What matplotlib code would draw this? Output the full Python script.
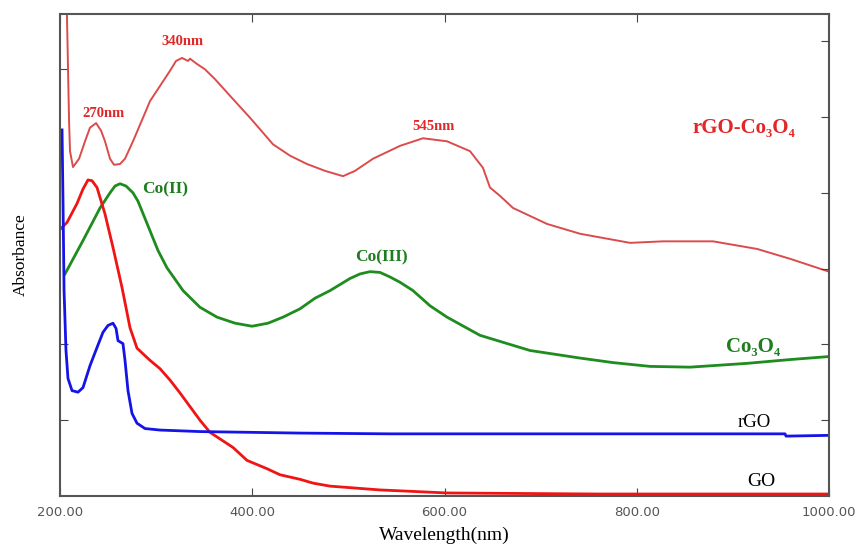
import matplotlib
matplotlib.use("Agg")
import matplotlib.pyplot as plt
from matplotlib.ticker import FormatStrFormatter

#------------------------------------------------------------
# UV-vis spectra (arbitrary absorbance)
rgo_co_nm = [206.5, 209.4, 210.4, 213.5, 219.8, 226.0, 231.2, 237.5, 242.7, 246.8,
             252.0, 256.2, 262.4, 267.6, 275.9, 286.3, 293.6, 304.0, 314.4, 320.7,
             326.9, 333.2, 335.2, 342.5, 350.8, 361.2, 376.9, 397.7, 421.6, 439.3,
             457.0, 475.7, 494.4, 506.9, 525.6, 553.7, 577.6, 602.6, 626.5, 640.0,
             647.3, 657.7, 671.3, 706.6, 741.0, 793.0, 827.3, 879.3, 925.1, 959.4,
             1000.0]
rgo_co_abs = [6.80, 4.95, 4.55, 4.34, 4.45, 4.68, 4.86, 4.92, 4.82, 4.68,
              4.45, 4.37, 4.38, 4.45, 4.68, 4.99, 5.21, 5.41, 5.61, 5.74,
              5.78, 5.74, 5.77, 5.70, 5.63, 5.50, 5.28, 4.99, 4.64, 4.49,
              4.38, 4.29, 4.22, 4.29, 4.45, 4.62, 4.72, 4.68, 4.55, 4.33,
              4.07, 3.96, 3.80, 3.59, 3.46, 3.34, 3.36, 3.36, 3.26, 3.13,
              2.96]

co3o4_nm = [205.2, 223.9, 241.6, 246.8, 252.0, 257.2, 262.4, 268.7, 275.9, 281.1,
            284.3, 293.6, 301.9, 311.3, 328.0, 345.6, 363.3, 382.1, 399.7, 416.4,
            432.0, 449.7, 465.3, 480.9, 501.7, 512.1, 522.5, 532.9, 543.3, 553.7,
            567.2, 584.9, 602.6, 636.9, 688.9, 740.9, 775.3, 813.8, 855.4, 914.7,
            959.4, 1000.0]
co3o4_abs = [2.93, 3.37, 3.80, 3.90, 4.00, 4.09, 4.12, 4.09, 4.00, 3.89,
             3.79, 3.50, 3.24, 3.01, 2.71, 2.49, 2.36, 2.28, 2.24, 2.28,
             2.36, 2.47, 2.61, 2.71, 2.87, 2.93, 2.96, 2.95, 2.89, 2.82,
             2.71, 2.51, 2.36, 2.12, 1.92, 1.82, 1.76, 1.71, 1.70, 1.75,
             1.80, 1.84]

rgo_nm = [202.1, 203.1, 204.2, 206.2, 208.3, 212.5, 218.7, 223.9, 231.2, 238.5,
          244.7, 249.9, 255.1, 258.3, 260.3, 265.5, 267.6, 270.7, 274.9, 280.1,
          288.4, 304.0, 345.6, 449.7, 543.3, 954.2, 955.3, 1000.0]
rgo_abs = [4.83, 3.89, 2.71, 1.92, 1.55, 1.39, 1.37, 1.43, 1.72, 1.96,
           2.16, 2.25, 2.28, 2.21, 2.05, 2.01, 1.79, 1.39, 1.09, 0.96,
           0.89, 0.87, 0.85, 0.83, 0.82, 0.82, 0.79, 0.80]

go_nm = [201.0, 207.3, 217.7, 223.9, 229.1, 233.3, 238.5, 246.8, 255.1, 264.5,
         272.8, 280.1, 293.6, 304.0, 314.4, 324.8, 345.6, 356.0, 380.0, 394.5,
         415.3, 428.9, 449.7, 463.2, 480.9, 532.9, 602.6, 761.8, 1000.0]
go_abs = [3.53, 3.61, 3.86, 4.05, 4.17, 4.16, 4.07, 3.72, 3.28, 2.75,
          2.22, 1.95, 1.79, 1.68, 1.53, 1.36, 1.00, 0.84, 0.64, 0.47,
          0.36, 0.28, 0.22, 0.17, 0.13, 0.08, 0.04, 0.026, 0.026]

xticks = [200, 400, 600, 800, 1000]

#------------------------------------------------------------
serif = ['Liberation Serif', 'DejaVu Serif']
fig = plt.figure(figsize=(8.55, 5.48), dpi=100)
ax = fig.add_axes([0.0702, 0.0949, 0.8994, 0.8796])

ax.plot(rgo_co_nm, rgo_co_abs, color='#dc4b4b', lw=1.4)
ax.plot(co3o4_nm, co3o4_abs, color='#1e8c1e', lw=2.0)
ax.plot(go_nm, go_abs, color='#f01414', lw=2.0)
ax.plot(rgo_nm, rgo_abs, color='#1414e6', lw=2.0)

ax.set_xlim(200, 1000)
ax.set_ylim(0, 6.36)
ax.set_xticks(xticks)
ax.xaxis.set_major_formatter(FormatStrFormatter('%.2f'))
ax.set_yticks([1, 2, 5.63])
ax.set_yticklabels([])
ax.tick_params(axis='both', direction='in', length=6, color='#444444',
               top=True, labelsize=9.5, labelcolor='#555555')
ax.tick_params(axis='x', pad=7)
for s in ax.spines.values():
    s.set_color('#555555')
    s.set_linewidth(1.5)

axr = ax.twinx()
axr.set_ylim(0, 6.36)
axr.set_yticks([1, 2, 3, 4, 5, 6])
axr.set_yticklabels([])
axr.tick_params(direction='in', length=6, color='#444444')
for s in axr.spines.values():
    s.set_visible(False)

ax.set_xlabel('Wavelength(nm)', family=serif, fontsize=14, labelpad=6)
ax.set_ylabel('Absorbance', family=serif, fontsize=12.5, labelpad=19)

# peak labels
red = '#e02828'
green = '#1e7d1e'
ax.text(327, 6.0, '340nm', color=red, family=serif, fontsize=10.5,
        fontweight='bold', ha='center', va='center')
ax.text(245, 5.05, '270nm', color=red, family=serif, fontsize=10.5,
        fontweight='bold', ha='center', va='center')
ax.text(589, 4.88, '545nm', color=red, family=serif, fontsize=10.5,
        fontweight='bold', ha='center', va='center')
ax.text(912, 4.85, 'rGO-Co₃O₄', color=red, family=serif, fontsize=15,
        fontweight='bold', ha='center', va='center')
ax.text(309, 4.05, 'Co(II)', color=green, family=serif, fontsize=12.5,
        fontweight='bold', ha='center', va='center')
ax.text(534, 3.15, 'Co(III)', color=green, family=serif, fontsize=12.5,
        fontweight='bold', ha='center', va='center')
ax.text(921, 1.96, 'Co₃O₄', color=green, family=serif, fontsize=15,
        fontweight='bold', ha='center', va='center')
ax.text(922, 0.97, 'rGO', color='black', family=serif, fontsize=13.5,
        ha='center', va='center')
ax.text(930, 0.19, 'GO', color='black', family=serif, fontsize=14,
        ha='center', va='center')

fig.savefig('out.png', dpi=100)
